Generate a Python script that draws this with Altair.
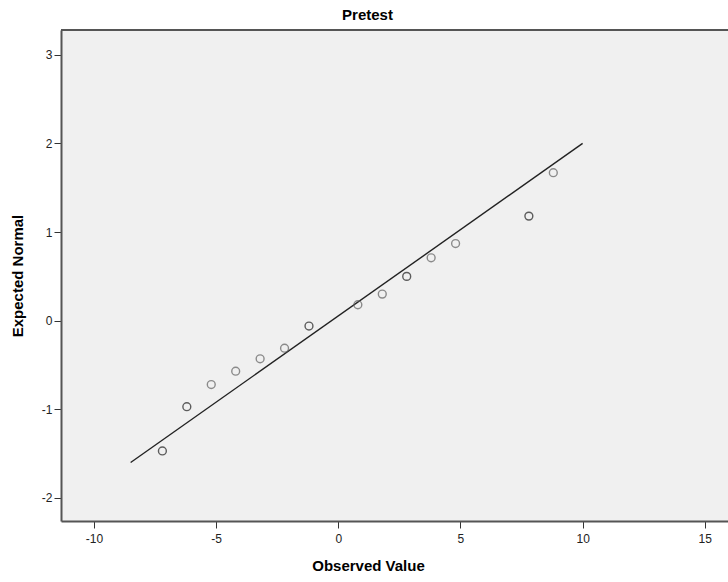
import altair as alt
import pandas as pd

observed = [-7.2, -6.2, -5.2, -4.2, -3.2, -2.2, -1.2, 0.8, 1.8, 2.8, 3.8, 4.8, 7.8, 8.8]
expected = [-1.47, -0.97, -0.72, -0.57, -0.43, -0.31, -0.06, 0.18, 0.30, 0.50, 0.71, 0.87, 1.18, 1.67]
ties = [2, 2, 1, 1, 1, 1, 2, 1, 1, 2, 1, 1, 2, 1]

line_x = [-8.5, 10.0]
line_y = [-1.6, 2.0]

x_ticks = [-10, -5, 0, 5, 10, 15]
y_ticks = [-2, -1, 0, 1, 2, 3]

pts = pd.DataFrame({"obs": observed, "exp": expected, "ties": [str(t) for t in ties]})
ln = pd.DataFrame({"obs": line_x, "exp": line_y})

W, H = 667, 491
FONT = "Liberation Sans"

xscale = alt.Scale(domain=[-11.35, 15.95], nice=False, zero=False)
yscale = alt.Scale(domain=[-2.26, 3.28], nice=False, zero=False)

xaxis = alt.Axis(
    values=x_ticks, title="Observed Value", titleFont=FONT, titleFontSize=15,
    titleFontWeight="bold", titleColor="#000", titlePadding=14, titleX=307,
    labelFont=FONT, labelFontSize=12, labelColor="#222", labelPadding=5,
    labelExpr="toString(datum.value)",
    tickSize=7, tickColor="#333", domainColor="#555", domainWidth=2, grid=False,
)
yaxis = alt.Axis(
    values=y_ticks, title="Expected Normal", titleFont=FONT, titleFontSize=15,
    titleFontWeight="bold", titleColor="#000", titlePadding=16,
    labelFont=FONT, labelFontSize=12, labelColor="#222", labelPadding=2,
    labelExpr="toString(datum.value)",
    tickSize=7, tickColor="#333", domainColor="#555", domainWidth=2, grid=False,
)

points = alt.Chart(pts).mark_point(shape="circle", filled=False, size=62, strokeWidth=1.4).encode(
    x=alt.X("obs:Q", scale=xscale, axis=xaxis),
    y=alt.Y("exp:Q", scale=yscale, axis=yaxis),
    stroke=alt.Stroke("ties:N", scale=alt.Scale(domain=["1", "2"], range=["#606060", "#1e1e1e"]), legend=None),
)

fit = alt.Chart(ln).mark_line(color="#222", strokeWidth=1.4).encode(
    x=alt.X("obs:Q", scale=xscale),
    y=alt.Y("exp:Q", scale=yscale),
)

top_border = alt.Chart(ln).mark_rule(color="#555", strokeWidth=2).encode(
    x=alt.value(0), x2=alt.value(W), y=alt.value(0)
)

chart = alt.layer(fit, points, top_border).properties(
    width=W, height=H,
    title=alt.TitleParams("Pretest", font=FONT, fontSize=15, fontWeight="bold", color="#000",
                          anchor="middle", dx=-27, offset=6),
    autosize=alt.AutoSizeParams(type="none"),
    padding={"left": 61, "top": 30, "right": 0, "bottom": 61},
    background="white",
).configure_view(fill="#F0F0F0", stroke=None)

chart.save("out.html", embed_options={"renderer": "svg", "actions": False})
